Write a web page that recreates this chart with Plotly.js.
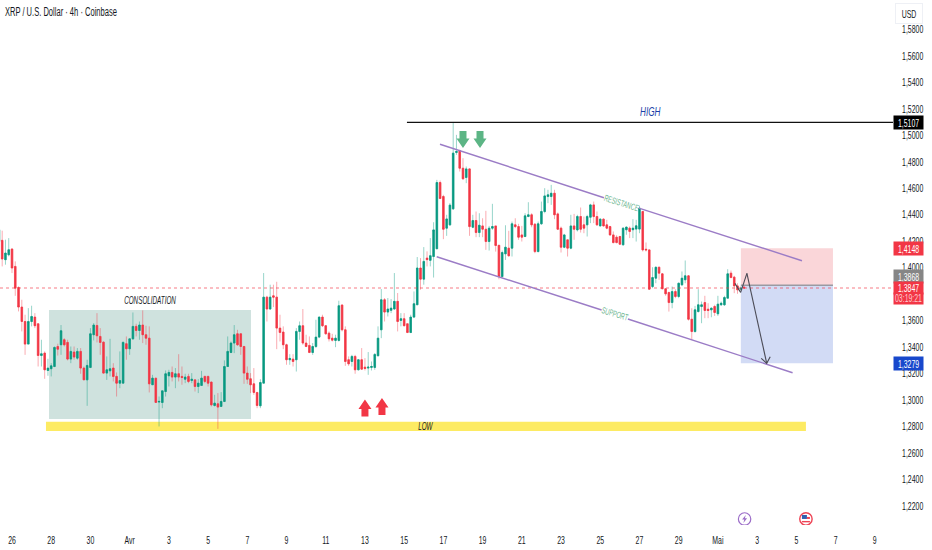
<!DOCTYPE html>
<html><head><meta charset="utf-8">
<script src="https://cdn.plot.ly/plotly-3.0.1.min.js"></script>
<style>html,body{margin:0;padding:0;background:#fff}#c{width:932px;height:550px}</style>
</head><body><div id="c"></div>
<script>
const firstBar = Date.UTC(2026,2,25,8,0,0);
const barHours = 4;
const opens = [1.4199,1.4207,1.4061,1.4098,1.4141,1.4010,1.3851,1.3703,1.3594,1.3423,1.3594,1.3627,1.3577,1.3337,1.3355,1.3224,1.3237,1.3254,1.3405,1.3418,
1.3456,1.3436,1.3310,1.3363,1.3317,1.3368,1.3242,1.3153,1.3247,1.3494,1.3564,1.3481,1.3438,1.3204,1.3221,1.3242,1.3179,1.3128,1.3128,1.3426,
1.3388,1.3463,1.3557,1.3526,1.3567,1.3494,1.3468,1.3116,1.3166,1.2985,1.2982,1.3065,1.3184,1.3209,1.3174,1.3199,1.3179,1.3158,1.3179,1.3148,
1.3153,1.3103,1.3111,1.3179,1.3179,1.3136,1.2959,1.2972,1.2952,1.2990,1.3254,1.3360,1.3431,1.3501,1.3501,1.3405,1.3204,1.3161,1.3123,1.3058,
1.2957,1.3128,1.3778,1.3688,1.3788,1.3778,1.3544,1.3514,1.3418,1.3305,1.3310,1.3305,1.3519,1.3562,1.3431,1.3413,1.3360,1.3405,1.3476,1.3627,
1.3562,1.3506,1.3468,1.3451,1.3451,1.3718,1.3531,1.3305,1.3292,1.3330,1.3229,1.3305,1.3249,1.3242,1.3247,1.3247,1.3335,1.3531,1.3758,1.3665,
1.3678,1.3688,1.3746,1.3602,1.3615,1.3577,1.3511,1.3627,1.3720,1.3998,1.3914,1.4073,1.4056,1.4085,1.4143,1.4644,1.4538,1.4299,1.4324,1.4445,
1.4871,1.4886,1.4752,1.4682,1.4747,1.4306,1.4357,1.4266,1.4316,1.4291,1.4198,1.4299,1.4316,1.4170,1.3933,1.4105,1.4148,1.4148,1.4324,1.4311,
1.4248,1.4236,1.4387,1.4400,1.4329,1.4122,1.4332,1.4425,1.4538,1.4538,1.4563,1.4407,1.4299,1.4155,1.4211,1.4148,1.4316,1.4286,1.4387,1.4324,
1.4324,1.4382,1.4475,1.4387,1.4316,1.4367,1.4324,1.4311,1.4248,1.4231,1.4236,1.4173,1.4287,1.4299,1.4287,1.4292,1.4292,1.4425,1.4140,1.4135,
1.3858,1.3921,1.4004,1.3954,1.3841,1.3813,1.3737,1.3820,1.3783,1.3871,1.3909,1.3939,1.3611,1.3518,1.3669,1.3707,1.3737,1.3687,1.3682,1.3707,
1.3652,1.3720,1.3720,1.3770,1.3959,1.3929,1.3863,1.3838,1.3853];
const highs = [1.4300,1.4280,1.4212,1.4224,1.4149,1.4048,1.3859,1.3758,1.3645,1.3695,1.3713,1.3657,1.3577,1.3456,1.3368,1.3312,1.3279,1.3405,1.3426,1.3567,
1.3468,1.3456,1.3405,1.3405,1.3393,1.3393,1.3254,1.3305,1.3544,1.3582,1.3657,1.3544,1.3443,1.3330,1.3463,1.3279,1.3209,1.3368,1.3443,1.3481,
1.3463,1.3662,1.3577,1.3594,1.3678,1.3562,1.3557,1.3191,1.3166,1.3027,1.3070,1.3224,1.3229,1.3254,1.3242,1.3347,1.3254,1.3199,1.3199,1.3204,
1.3153,1.3158,1.3221,1.3184,1.3184,1.3141,1.3040,1.3053,1.3060,1.3300,1.3481,1.3443,1.3567,1.3531,1.3501,1.3410,1.3254,1.3204,1.3242,1.3058,
1.3158,1.3960,1.3788,1.3872,1.3872,1.3894,1.3645,1.3557,1.3426,1.3347,1.3347,1.3544,1.3594,1.3688,1.3494,1.3481,1.3431,1.3607,1.3632,1.3645,
1.3567,1.3519,1.3501,1.3494,1.3751,1.3725,1.3557,1.3330,1.3342,1.3342,1.3310,1.3393,1.3317,1.3363,1.3292,1.3355,1.3557,1.3839,1.3771,1.3771,
1.3763,1.3960,1.3809,1.3657,1.3657,1.3577,1.3645,1.3821,1.4081,1.4073,1.4156,1.4124,1.4224,1.4344,1.4664,1.4659,1.4551,1.4400,1.4488,1.5100,
1.5004,1.4891,1.4828,1.4765,1.4752,1.4400,1.4425,1.4412,1.4374,1.4430,1.4316,1.4483,1.4316,1.4170,1.4130,1.4321,1.4279,1.4349,1.4374,1.4332,
1.4316,1.4412,1.4495,1.4412,1.4337,1.4349,1.4500,1.4601,1.4589,1.4626,1.4589,1.4417,1.4311,1.4256,1.4211,1.4400,1.4407,1.4400,1.4455,1.4387,
1.4400,1.4483,1.4500,1.4425,1.4374,1.4374,1.4362,1.4316,1.4274,1.4246,1.4241,1.4306,1.4312,1.4312,1.4367,1.4362,1.4468,1.4430,1.4191,1.4140,
1.4004,1.4009,1.4009,1.3959,1.3843,1.3820,1.3858,1.3838,1.3888,1.3972,1.4055,1.3944,1.3694,1.3712,1.3838,1.3745,1.3788,1.3732,1.3702,1.3720,
1.3788,1.3745,1.3788,1.3989,1.3979,1.3939,1.3883,1.3858,1.3868];
const lows = [1.4199,1.4010,1.4023,1.4086,1.3960,1.3788,1.3670,1.3519,1.3342,1.3423,1.3557,1.3544,1.3254,1.3254,1.3161,1.3184,1.3179,1.3249,1.3337,1.3342,
1.3405,1.3300,1.3279,1.3305,1.3305,1.3199,1.3153,1.2957,1.3242,1.3451,1.3436,1.3342,1.3199,1.3153,1.3179,1.3141,1.3027,1.3090,1.3128,1.3305,
1.3342,1.3456,1.3481,1.3456,1.3431,1.3418,1.3058,1.3116,1.2982,1.2801,1.2939,1.3027,1.3103,1.3141,1.3090,1.3141,1.3116,1.3128,1.3128,1.3128,
1.3065,1.3053,1.3111,1.3128,1.3103,1.2952,1.2952,1.2783,1.2952,1.2985,1.3254,1.3355,1.3355,1.3410,1.3342,1.3123,1.3123,1.3053,1.3040,1.2939,
1.2939,1.3128,1.3594,1.3683,1.3703,1.3385,1.3443,1.3385,1.3267,1.3267,1.3254,1.3216,1.3456,1.3418,1.3400,1.3355,1.3342,1.3393,1.3468,1.3552,
1.3494,1.3443,1.3443,1.3400,1.3443,1.3519,1.3259,1.3259,1.3254,1.3199,1.3224,1.3229,1.3224,1.3191,1.3224,1.3229,1.3330,1.3468,1.3594,1.3632,
1.3657,1.3683,1.3519,1.3557,1.3557,1.3506,1.3506,1.3620,1.3720,1.3834,1.3872,1.4010,1.4010,1.3926,1.4143,1.4523,1.4216,1.4241,1.4316,1.4437,
1.4853,1.4727,1.4664,1.4639,1.4241,1.4299,1.4231,1.4231,1.4231,1.4135,1.4130,1.4286,1.4122,1.3913,1.3928,1.4059,1.4085,1.4085,1.4299,1.4211,
1.4198,1.4231,1.4382,1.4306,1.4110,1.4117,1.4324,1.4412,1.4488,1.4475,1.4367,1.4286,1.4115,1.4148,1.4085,1.4140,1.4211,1.4274,1.4266,1.4261,
1.4236,1.4337,1.4337,1.4316,1.4311,1.4311,1.4291,1.4241,1.4185,1.4185,1.4173,1.4168,1.4249,1.4224,1.4224,1.4198,1.4261,1.4123,1.4123,1.3833,
1.3846,1.3883,1.3909,1.3838,1.3788,1.3669,1.3694,1.3770,1.3770,1.3863,1.3883,1.3601,1.3455,1.3510,1.3662,1.3581,1.3619,1.3619,1.3626,1.3636,
1.3636,1.3712,1.3712,1.3770,1.3921,1.3808,1.3803,1.3830,1.3840];
const closes = [1.4287,1.4066,1.4111,1.4136,1.3998,1.3846,1.3703,1.3594,1.3423,1.3594,1.3632,1.3562,1.3337,1.3350,1.3229,1.3242,1.3259,1.3398,1.3385,1.3524,
1.3418,1.3310,1.3368,1.3325,1.3368,1.3242,1.3153,1.3262,1.3501,1.3567,1.3486,1.3436,1.3204,1.3229,1.3237,1.3179,1.3128,1.3148,1.3436,1.3388,
1.3463,1.3557,1.3526,1.3567,1.3494,1.3468,1.3123,1.3166,1.2982,1.2990,1.3070,1.3199,1.3209,1.3174,1.3199,1.3174,1.3171,1.3174,1.3141,1.3158,
1.3103,1.3128,1.3166,1.3141,1.3128,1.2964,1.2977,1.2947,1.2990,1.3254,1.3368,1.3431,1.3494,1.3418,1.3405,1.3204,1.3158,1.3116,1.3058,1.2959,
1.3133,1.3778,1.3688,1.3778,1.3778,1.3544,1.3511,1.3418,1.3305,1.3315,1.3292,1.3519,1.3562,1.3431,1.3405,1.3360,1.3405,1.3476,1.3627,1.3562,
1.3501,1.3463,1.3453,1.3468,1.3713,1.3531,1.3292,1.3274,1.3330,1.3229,1.3305,1.3234,1.3239,1.3249,1.3254,1.3345,1.3468,1.3758,1.3665,1.3688,
1.3695,1.3746,1.3594,1.3615,1.3562,1.3511,1.3627,1.3728,1.3998,1.3914,1.4048,1.4061,1.4091,1.4286,1.4644,1.4523,1.4291,1.4369,1.4473,1.4866,
1.4878,1.4752,1.4672,1.4747,1.4311,1.4357,1.4266,1.4321,1.4291,1.4198,1.4299,1.4311,1.4168,1.3933,1.4115,1.4155,1.4090,1.4332,1.4311,1.4231,
1.4231,1.4392,1.4400,1.4324,1.4122,1.4332,1.4425,1.4543,1.4551,1.4563,1.4400,1.4291,1.4155,1.4248,1.4148,1.4316,1.4291,1.4387,1.4291,1.4299,
1.4387,1.4475,1.4387,1.4324,1.4367,1.4316,1.4299,1.4248,1.4190,1.4190,1.4178,1.4299,1.4307,1.4274,1.4299,1.4317,1.4450,1.4135,1.4135,1.3838,
1.3926,1.4004,1.3959,1.3841,1.3803,1.3737,1.3820,1.3783,1.3883,1.3921,1.3939,1.3611,1.3518,1.3682,1.3720,1.3720,1.3677,1.3677,1.3694,1.3662,
1.3725,1.3732,1.3775,1.3954,1.3926,1.3863,1.3833,1.3845,1.3847];

const priceTicks = [1.58,1.56,1.54,1.52,1.50,1.48,1.46,1.44,1.42,1.40,1.36,1.34,1.32,1.30,1.28,1.26,1.24,1.22];
const priceLabels = ["1,5800","1,5600","1,5400","1,5200","1,5000","1,4800","1,4600","1,4400","1,4200","1,4000","1,3600","1,3400","1,3200","1,3000","1,2800","1,2600","1,2400","1,2200"];
const dateTicks = ["2026-03-26","2026-03-28","2026-03-30","2026-04-01","2026-04-03","2026-04-05","2026-04-07","2026-04-09","2026-04-11","2026-04-13","2026-04-15","2026-04-17","2026-04-19","2026-04-21","2026-04-23","2026-04-25","2026-04-27","2026-04-29","2026-05-01","2026-05-03","2026-05-05","2026-05-07","2026-05-09"];
const dateLabels = ["26","28","30","Avr","3","5","7","9","11","13","15","17","19","21","23","25","27","29","Mai","3","5","7","9"];

const lastPrice = 1.3847, highLevel = 1.5099, stopLevel = 1.4148, entryLevel = 1.3868, targetLevel = 1.3279;
const consolBox = {x:["2026-03-27 21:17","2026-04-07 04:30"], y:[1.3681,1.2857]};
const lowBand = {x:["2026-03-27 17:36","2026-05-05 11:45"], y:[1.2837,1.2767]};
const tradeX = ["2026-05-02 04:05","2026-05-06 20:50"];
const highLineStart = "2026-04-15 03:24";
const rangeX = ["2026-03-25 09:19","2026-05-09 22:19"];
const rangeY = [1.20564,1.60229];
const segments = [
 [["2026-04-16 19:50",1.4933],["2026-04-25 04:30",1.4529]],
 [["2026-04-26 23:20",1.4451],["2026-05-05 06:55",1.4053]],
 [["2026-04-16 15:50",1.4083],["2026-04-25 01:40",1.3681]],
 [["2026-04-26 09:50",1.3613],["2026-05-04 19:25",1.3207]]
];
const pathX = ["2026-05-01 20:50","2026-05-02 03:50","2026-05-02 11:30","2026-05-03 11:45"];
const pathY = [1.3882,1.3814,1.3958,1.3278];
const greenArrows = [["2026-04-18 00:00",1.4969],["2026-04-18 20:50",1.4969]];
const redArrows = [["2026-04-13 00:00",1.2941],["2026-04-13 20:50",1.2952]];
const eventIcons = {spark:["2026-05-02 08:40",1.2102], flag:["2026-05-05 11:45",1.2102]};

const GREEN="#089981", RED="#F23645", FONT="'Liberation Sans',Arial,sans-serif";
const times = opens.map((_,i)=>new Date(firstBar+i*barHours*3600000).toISOString());
const bodyHi = opens.map((o,i)=>Math.max(o,closes[i]));
const bodyLo = opens.map((o,i)=>Math.min(o,closes[i]));

const traces = [
 {type:"candlestick",x:times,open:opens,high:highs,low:lows,close:closes,whiskerwidth:0,hoverinfo:"skip",showlegend:false,
  increasing:{line:{color:"rgba(8,153,129,0.42)",width:1},fillcolor:"rgba(8,153,129,0.42)"},
  decreasing:{line:{color:"rgba(242,54,69,0.42)",width:1},fillcolor:"rgba(242,54,69,0.42)"}},
 {type:"candlestick",x:times,open:opens,high:bodyHi,low:bodyLo,close:closes,whiskerwidth:0,hoverinfo:"skip",showlegend:false,
  increasing:{line:{color:GREEN,width:0.5},fillcolor:GREEN},
  decreasing:{line:{color:RED,width:0.5},fillcolor:RED}}
];

const ln=(x0,y0,x1,y1,color,width,dash)=>({type:"line",xref:"x",yref:"y",x0,y0,x1,y1,line:{color,width,dash:dash||"solid"}});
const rect=(x0,y0,x1,y1,fill)=>({type:"rect",xref:"x",yref:"y",x0,y0,x1,y1,fillcolor:fill,line:{width:0},layer:"below"});
const pix=(a,path,fill,line)=>({type:"path",xref:"x",yref:"y",xsizemode:"pixel",ysizemode:"pixel",xanchor:a[0],yanchor:a[1],path,fillcolor:fill,line:line||{width:0}});
const circ=(a,r,fill,color,w)=>({type:"circle",xref:"x",yref:"y",xsizemode:"pixel",ysizemode:"pixel",xanchor:a[0],yanchor:a[1],x0:-r,x1:r,y0:-r,y1:r,fillcolor:fill,line:{color,width:w}});

const DOWN="M-3.5,8.5 L3.5,8.5 L3.5,1 L6.5,1 L0,-8.5 L-6.5,1 L-3.5,1 Z";
const UP="M-3.5,-8.5 L3.5,-8.5 L3.5,-1 L6.5,-1 L0,8.5 L-6.5,-1 L-3.5,-1 Z";

const shapes=[
 rect(consolBox.x[0],consolBox.y[0],consolBox.x[1],consolBox.y[1],"#cfe2de"),
 rect(lowBand.x[0],lowBand.y[0],lowBand.x[1],lowBand.y[1],"#fdeb63"),
 rect(tradeX[0],stopLevel,tradeX[1],entryLevel,"#fad6d9"),
 rect(tradeX[0],entryLevel,tradeX[1],targetLevel,"#d2dbf5"),
 ln(tradeX[0],entryLevel,tradeX[1],entryLevel,"#9a9aa2",1.5),
 ln(rangeX[0],lastPrice,rangeX[1],lastPrice,"rgba(242,54,69,0.65)",1,"dot"),
 ln(highLineStart,highLevel,rangeX[1],highLevel,"#111111",1.2),
 ...segments.map(s=>ln(s[0][0],s[0][1],s[1][0],s[1][1],"#9b7cc6",1.4)),
 ...pathX.slice(1).map((x,i)=>ln(pathX[i],pathY[i],x,pathY[i+1],"#4a4a55",1.1)),
 pix([pathX[3],pathY[3]],"M-5.5,5 L0,0 L3.5,6.5","rgba(0,0,0,0)",{color:"#4a4a55",width:1.1}),
 ...greenArrows.map(a=>pix(a,DOWN,"#5cb585")),
 ...redArrows.map(a=>pix(a,UP,"#f23645")),
 circ(eventIcons.spark,6.2,"#ffffff","#9b6cc8",1.2),
 pix(eventIcons.spark,"M1.2,4 L-2.5,-0.6 L-0.3,-0.6 L-1.2,-4 L2.5,0.6 L0.3,0.6 Z","#9b6cc8"),
 circ(eventIcons.flag,6.2,"#ffffff","#ee4455",1.4),
 pix(eventIcons.flag,"M-4,4 L1,4 L1,0 L-4,0 Z","#2f5fb0"),
 pix(eventIcons.flag,"M1,2 L4,2 L4,0 L1,0 Z","#ee4455"),
 pix(eventIcons.flag,"M-4,-2 L4,-2 L4,-3.4 L-4,-3.4 Z","#ee4455")
];

const label=(x,y,text,size,color,opts)=>Object.assign({xref:"x",yref:"y",x,y,text,showarrow:false,font:{family:FONT,size,color}},opts||{});
const tag=(y,text,bg,yshift,txt,h)=>({xref:"paper",yref:"y",x:(908.5/893),y,text,showarrow:false,xanchor:"center",yanchor:"middle",yshift:yshift||0,width:29,height:h||13,bgcolor:bg,borderpad:0,font:{family:FONT,size:11,color:txt||"#fff"}});

const annotations=[
 {xref:"paper",yref:"paper",x:4/893,y:1-12/525,xanchor:"left",yanchor:"middle",xshift:-34,showarrow:false,text:"XRP / U.S. Dollar · 4h · Coinbase",font:{family:FONT,size:12,color:"#131722"}},
 label("2026-04-27 14:00",1.5177,"<i>HIGH</i>",13,"#1a3fa8"),
 label("2026-04-02 01:00",1.3749,"<i>CONSOLIDATION</i>",10,"#131722"),
 label("2026-04-16 02:40",1.2800,"<i>LOW</i>",10,"#131722"),
 label("2026-04-26 01:25",1.4489,"RESISTANCE",9,"#6bb58f",{textangle:18}),
 label("2026-04-25 18:00",1.3647,"SUPPORT",9,"#6bb58f",{textangle:17}),
 {xref:"paper",yref:"paper",x:909/893,y:1-13/525,xanchor:"center",yanchor:"middle",showarrow:false,text:"USD",width:26,height:19,bgcolor:"#fff",bordercolor:"#eef0f5",borderwidth:1,borderpad:0,font:{family:FONT,size:11,color:"#131722"}},
 tag(highLevel,"1,5107","#000000"),
 tag(stopLevel,"1,4148","#F23645"),
 tag(entryLevel,"1,3868","#868686",9),
 tag(lastPrice,"1,3847","#F23645",0,null,11.5),
 tag(lastPrice,"03:19:21","#F23645",-10.5,"#ffc9ce",10.5),
 tag(targetLevel,"1,3279","#1848CC")
];

const layout={
 width:932,height:550,paper_bgcolor:"#fff",plot_bgcolor:"#fff",showlegend:false,hovermode:false,
 margin:{l:0,r:39,t:0,b:25,pad:0},
 xaxis:{type:"date",range:rangeX,tickmode:"array",tickvals:dateTicks,ticktext:dateLabels,showgrid:false,zeroline:false,showline:false,
   ticks:"outside",ticklen:5,tickcolor:"rgba(0,0,0,0)",tickangle:0,rangeslider:{visible:false},tickfont:{family:FONT,size:11,color:"#131722"}},
 yaxis:{side:"right",range:rangeY,tickmode:"array",tickvals:priceTicks,ticktext:priceLabels,showgrid:false,zeroline:false,showline:false,
   ticks:"outside",ticklen:6,tickcolor:"rgba(0,0,0,0)",tickfont:{family:FONT,size:10.5,color:"#131722"}},
 shapes,annotations
};
const NARROW=0.63, NARROW_Y=0.66;
Plotly.newPlot("c",traces,layout,{displayModeBar:false,staticPlot:true}).then(()=>{
 document.querySelectorAll("#c svg text").forEach(t=>{
  if(!t.textContent.trim())return;
  const w=t.getComputedTextLength();
  const k=t.closest(".ytick")?NARROW_Y:NARROW;
  t.setAttribute("lengthAdjust","spacingAndGlyphs");
  t.setAttribute("textLength",(w*k).toFixed(2));
 });
});
</script></body></html>
